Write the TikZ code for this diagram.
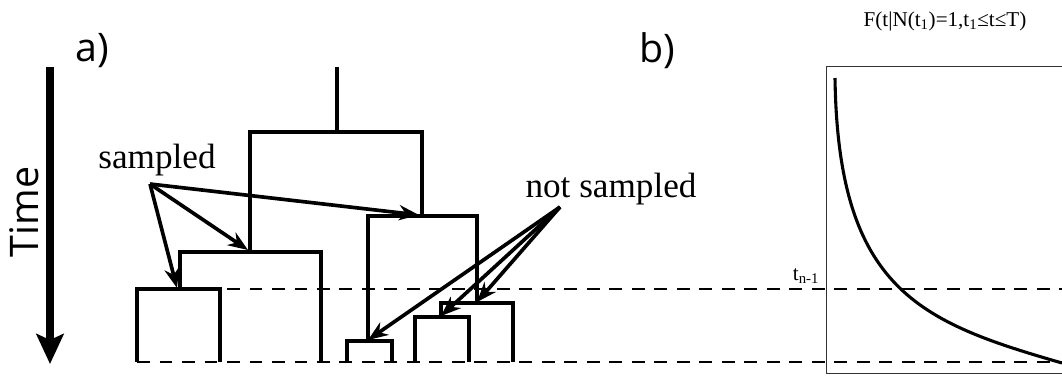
\documentclass[tikz,border=0pt]{standalone}
\usepackage{fontspec}
\setmainfont{Liberation Serif}
\setsansfont{Open Sans}
\usetikzlibrary{arrows.meta}

\begin{document}
\begin{tikzpicture}[
  x=0.025cm, y=-0.025cm,
  branch/.style={
    line width=2.8pt,
    line join=miter
  },
  level/.style={
    dashed,
    line width=1.7pt,
    dash pattern=on 9pt off 7pt
  },
  pointer/.style={
    -{Stealth[length=5mm,width=3.8mm]},
    line width=2.6pt
  },
  timearrow/.style={
    -{Stealth[length=7.5mm,width=6.8mm,inset=1.5mm]},
    line width=5.5pt
  },
  panel/.style={
    font=\sffamily\fontsize{28}{30}\selectfont,
    inner sep=0pt
  },
  caption/.style={
    font=\fontsize{25}{27}\selectfont,
    inner sep=0pt
  }
]

\path[use as bounding box] (0,0) rectangle (1062,377);

% time axis
\coordinate (ttop) at (50,67);
\coordinate (tbot) at (50,364);
\draw[timearrow] (ttop) -- (tbot);
\node[panel, rotate=90] (time) at (24,212) {Time};
\node[panel] (pa) at (92,51) {a)};
\node[panel] (pb) at (657,51) {b)};

% levels
\draw[level] (137,289) -- (1062,289);
\draw[level] (137,362) -- (1062,362);

% tree
\draw[branch] (337,67) -- (337,132);
\draw[branch] (250,252) -- (250,132) -- (422,132) -- (422,216);
\draw[branch] (180,289) -- (180,252) -- (321,252) -- (321,362);
\draw[branch] (137,362) -- (137,289) -- (220,289) -- (220,362);
\draw[branch] (368,341) -- (368,216) -- (477,216) -- (477,303);
\draw[branch] (347,362) -- (347,341) -- (392,341) -- (392,362);
\draw[branch] (441,317) -- (441,303) -- (513,303) -- (513,362);
\draw[branch] (415,362) -- (415,317) -- (469,317) -- (469,362);

% labels and pointers
\node[caption] (sampled) at (157,160) {sampled};
\node[caption] (notsampled) at (611,189) {not sampled};
\coordinate (sfrom) at (150,184);
\coordinate (nfrom) at (560,207);
\coordinate (s1) at (177,288);
\coordinate (s2) at (248,250);
\coordinate (s3) at (419,215);
\coordinate (n1) at (368,340);
\coordinate (n2) at (441,316);
\coordinate (n3) at (477,302);
\foreach \t in {s1,s2,s3}
  \draw[pointer] (sfrom) -- (\t);
\foreach \t in {n1,n2,n3}
  \draw[pointer] (nfrom) -- (\t);

% panel b
\draw[line width=0.7pt, black!80] (1062,66) -- (826,66) -- (826,373) -- (1062,373);
\coordinate (cstart) at (835,78);
\coordinate (cend) at (1062,363);
\draw[line width=2.2pt] (cstart) .. controls (838,290) and (920,322) .. (cend);
\node[font=\fontsize{15}{17}\selectfont, inner sep=0pt] (flabel) at (945,21)
  {F(t|N(t\textsubscript{1})=1,t\textsubscript{1}≤t≤T)};
\node[font=\fontsize{15}{17}\selectfont, inner sep=0pt] (tlabel) at (806,276)
  {t\textsubscript{n-1}};

\end{tikzpicture}
\end{document}
